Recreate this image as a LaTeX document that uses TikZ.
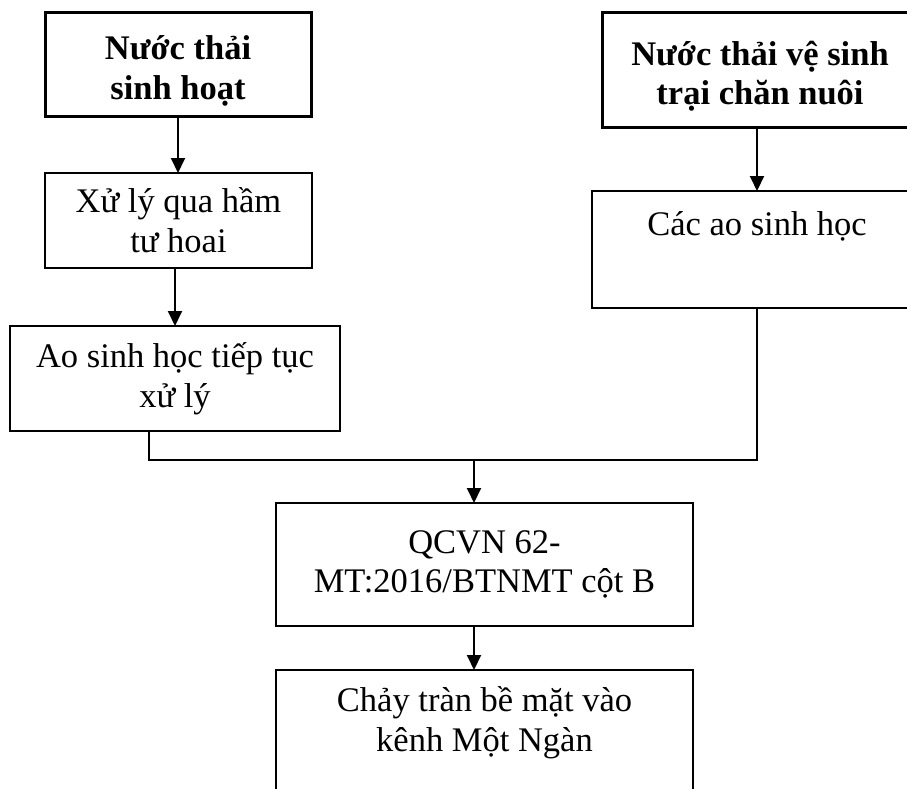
\documentclass[tikz,border=0pt]{standalone}
\usepackage{fontspec}
\setmainfont{Liberation Serif}
\usetikzlibrary{arrows.meta}
\begin{document}
\begin{tikzpicture}[x=1pt,y=-1pt,
  txt/.style={font={\fontsize{34.5}{39.7}\selectfont}, align=center},
  boxbase/.style={draw, rectangle, inner sep=0pt, outer sep=0pt, anchor=north west, txt},
  heavybox/.style={boxbase, line width=3pt, font={\fontsize{34.5}{39.7}\selectfont\bfseries}},
  lightbox/.style={boxbase, line width=2pt},
  midbox/.style={boxbase, line width=2.5pt},
  link/.style={line width=2pt},
  flow/.style={line width=2pt, -{Triangle[length=15pt,width=14pt]}}
]
% page frame
\clip (0,0) rectangle (907,789);
\fill[white] (0,0) rectangle (907,789);

% left branch: domestic wastewater
\node[heavybox, minimum width=266pt, minimum height=104pt] (b1) at (45,13)
  {\rule{0pt}{36pt}Nước thải\\sinh hoạt};
\node[lightbox, minimum width=267pt, minimum height=95pt] (b3) at (45,173)
  {Xử lý qua hầm\\tư hoai};
\node[lightbox, minimum width=330pt, minimum height=105pt] (b5) at (10,326)
  {Ao sinh học tiếp tục\\xử lý};

% right branch: livestock farm wastewater
\node[heavybox, minimum width=316pt, minimum height=115pt] (b2) at (602,13)
  {\rule{0pt}{36pt}Nước thải vệ sinh\\trại chăn nuôi};
\node[lightbox, minimum width=330pt, minimum height=117pt] (b4) at (592,191)
  {Các ao sinh học\\\strut};

% joined outlet
\node[midbox, minimum width=417pt, minimum height=123pt] (b6) at (276,503)
  {QCVN 62-\\MT:2016/BTNMT cột B};
\node[midbox, minimum width=417pt, minimum height=140pt] (b7) at (276,670)
  {Chảy tràn bề mặt vào\\kênh Một Ngàn\\[-10pt]\strut};

\coordinate (j) at (474,460);

% connectors
\draw[flow] (b1.south) -- (b3.north -| b1.south);
\draw[flow] (b5.north |- b3.south) -- (b5.north);
\draw[flow] (b4.north |- b2.south) -- (b4.north);
\draw[link] ([xshift=139pt]b5.south west) |- (j) -| (b4.south);
\draw[flow] (j) -- (j |- b6.north);
\draw[flow] (j |- b6.south) -- (j |- b7.north);
\end{tikzpicture}
\end{document}
